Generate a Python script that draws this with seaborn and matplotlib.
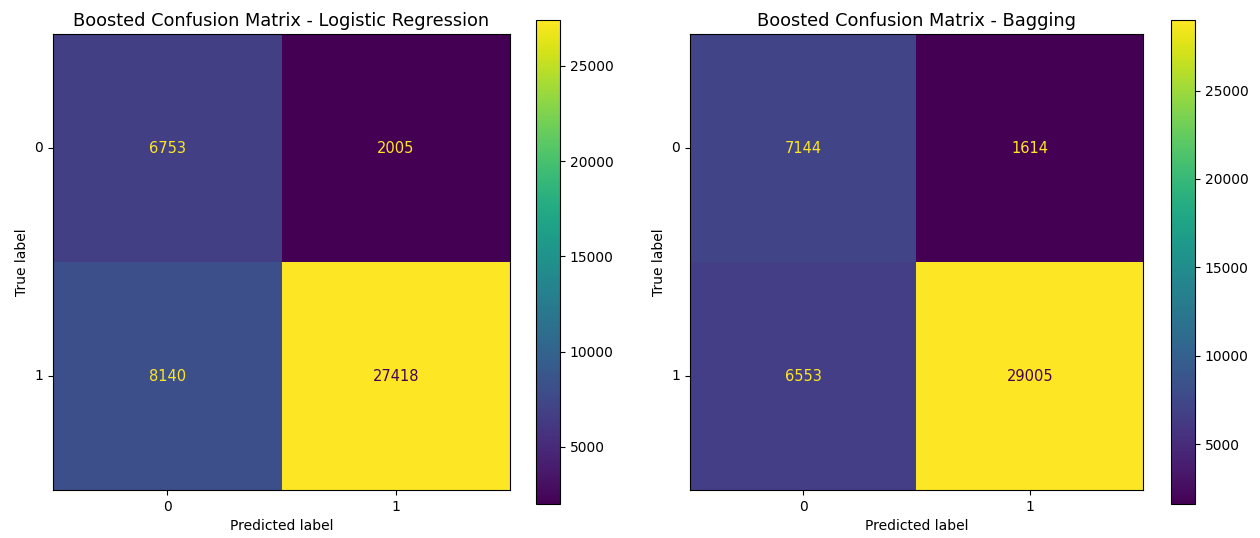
import numpy as np
import matplotlib
matplotlib.use("Agg")
import matplotlib.pyplot as plt
import seaborn as sns

# Confusion matrix counts (rows: true label, columns: predicted label)
class_labels = ["0", "1"]
cm_logreg = [[6753, 2005],
             [8140, 27418]]
cm_bagging = [[7144, 1614],
              [6553, 29005]]
titles = ["Boosted Confusion Matrix - Logistic Regression",
          "Boosted Confusion Matrix - Bagging"]

cmap = plt.get_cmap("viridis")

fig = plt.figure(figsize=(12.6, 5.38), dpi=100)
ax_boxes = [[0.0421, 0.0892, 0.3627, 0.8476],
            [0.5476, 0.0892, 0.3595, 0.8476]]
cb_boxes = [[0.4254, 0.0632, 0.0190, 0.9000],
            [0.9294, 0.0632, 0.0190, 0.9000]]

for cm, title, axb, cbb in zip([cm_logreg, cm_bagging], titles, ax_boxes, cb_boxes):
    data = np.array(cm)
    ax = fig.add_axes(axb)
    cax = fig.add_axes(cbb)
    vmin, vmax = data.min(), data.max()
    sns.heatmap(data, ax=ax, cbar_ax=cax, cmap=cmap, vmin=vmin, vmax=vmax,
                annot=True, fmt="d", annot_kws={"fontsize": 10.5},
                xticklabels=class_labels, yticklabels=class_labels, square=False)

    # Text colour follows the colormap extremes, contrasting with the cell
    thresh = (vmax + vmin) / 2.0
    for txt in ax.texts:
        val = int(txt.get_text())
        txt.set_color(cmap(1.0) if val < thresh else cmap(0.0))

    for sp in ax.spines.values():
        sp.set_visible(True)
        sp.set_linewidth(0.8)
        sp.set_color("black")
    ax.tick_params(axis="both", length=3.5, width=0.8, labelsize=10, color="black")
    ax.set_yticklabels(class_labels, rotation=0)
    ax.set_xticklabels(class_labels, rotation=0)
    ax.set_xlabel("Predicted label", fontsize=10)
    ax.set_ylabel("True label", fontsize=10)
    ax.set_title(title, fontsize=12.8)

    cbar = ax.collections[0].colorbar
    cbar.outline.set_visible(True)
    cbar.outline.set_linewidth(0.8)
    cbar.outline.set_edgecolor("black")
    cbar.set_ticks([5000, 10000, 15000, 20000, 25000])
    cax.tick_params(length=3.5, width=0.8, labelsize=10)

fig.savefig("out.png", dpi=100)
